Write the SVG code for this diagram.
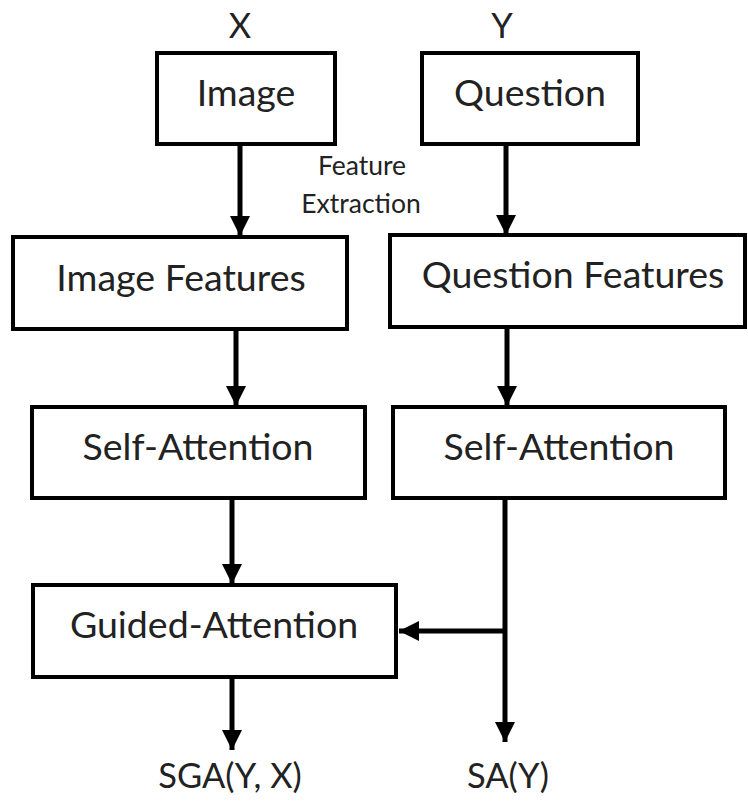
<svg xmlns="http://www.w3.org/2000/svg" width="748" height="804" viewBox="0 0 748 804">
<defs>
<style>
.box{fill:#fff;stroke:#000;stroke-width:4}
.lbl{font-family:Lato,"Open Sans",sans-serif;font-size:37.5px;fill:#222;text-anchor:middle}
.sm{font-family:Lato,"Open Sans",sans-serif;font-size:26.5px;fill:#222;text-anchor:middle}
.io{font-family:Lato,"Open Sans",sans-serif;font-size:34.5px;fill:#222;text-anchor:middle}
.ln{fill:none;stroke:#000;stroke-width:5}
</style>
<marker id="ah" markerUnits="userSpaceOnUse" markerWidth="20" markerHeight="20" refX="20" refY="10" orient="auto">
<path d="M0,0 L20,10 L0,20 z" fill="#000"/>
</marker>
</defs>
<rect width="748" height="804" fill="#fff"/>
<g id="connectors">
<line class="ln" x1="240" y1="144" x2="240" y2="236" marker-end="url(#ah)"/>
<line class="ln" x1="506" y1="144" x2="506" y2="235" marker-end="url(#ah)"/>
<line class="ln" x1="236" y1="329" x2="236" y2="406" marker-end="url(#ah)"/>
<line class="ln" x1="507" y1="327" x2="507" y2="406" marker-end="url(#ah)"/>
<line class="ln" x1="232" y1="498" x2="232" y2="584" marker-end="url(#ah)"/>
<line class="ln" x1="505" y1="498" x2="505" y2="742" marker-end="url(#ah)"/>
<line class="ln" x1="507" y1="631" x2="399" y2="631" marker-end="url(#ah)"/>
<line class="ln" x1="232" y1="677" x2="232" y2="750" marker-end="url(#ah)"/>
</g>
<g id="label-x"><text class="io" x="240" y="38">X</text></g>
<g id="label-y"><text class="io" x="502" y="38">Y</text></g>
<g id="image">
<rect class="box" x="157" y="53" width="178" height="91"/>
<text class="lbl" x="246" y="106">Image</text>
</g>
<g id="question">
<rect class="box" x="422" y="53" width="216" height="91"/>
<text class="lbl" x="530" y="106">Question</text>
</g>
<g id="feature-extraction">
<text class="sm" x="362" y="175">Feature</text>
<text class="sm" x="361" y="213">Extraction</text>
</g>
<g id="image-features">
<rect class="box" x="13" y="237" width="334" height="92"/>
<text class="lbl" x="181" y="291">Image Features</text>
</g>
<g id="question-features">
<rect class="box" x="390" y="235" width="355" height="92"/>
<text class="lbl" x="573" y="288">Question Features</text>
</g>
<g id="self-attention-left">
<rect class="box" x="32" y="407" width="333" height="91"/>
<text class="lbl" x="198" y="460">Self-Attention</text>
</g>
<g id="self-attention-right">
<rect class="box" x="393" y="407" width="332" height="91"/>
<text class="lbl" x="559" y="460">Self-Attention</text>
</g>
<g id="guided-attention">
<rect class="box" x="33" y="585" width="363" height="92"/>
<text class="lbl" x="214" y="638">Guided-Attention</text>
</g>
<g id="out-sga"><text class="io" x="230" y="788">SGA(Y, X)</text></g>
<g id="out-sa"><text class="io" x="508" y="788">SA(Y)</text></g>
</svg>
